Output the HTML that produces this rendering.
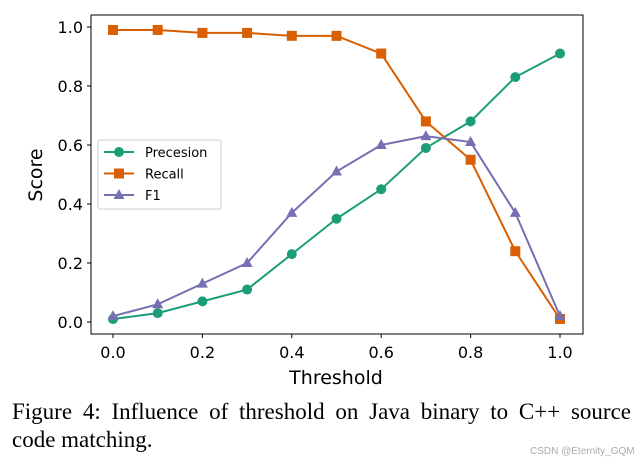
<!DOCTYPE html>
<html><head><meta charset="utf-8"><style>
body{margin:0;background:#fff;width:643px;height:463px;overflow:hidden;position:relative}
svg{position:absolute;left:0;top:0}
.cap{position:absolute;left:12px;width:619px;font-family:"Liberation Serif",serif;font-size:23px;color:#000;text-align:justify;text-align-last:justify;white-space:nowrap}
</style></head><body>
<svg width="643" height="400" id="chart"></svg>
<div class="cap" style="top:399px">Figure 4: Influence of threshold on Java binary to C++ source</div>
<div class="cap" style="top:427px;text-align-last:left">code matching.</div>
<div style="position:absolute;left:530px;top:446px;font-family:'Liberation Sans',sans-serif;font-size:10px;color:#aaa">CSDN @Eternity_GQM</div>
<script>
const thresholds=[0,0.1,0.2,0.3,0.4,0.5,0.6,0.7,0.8,0.9,1.0];
const precision=[0.01,0.03,0.07,0.11,0.23,0.35,0.45,0.59,0.68,0.83,0.91];
const recall=[0.99,0.99,0.98,0.98,0.97,0.97,0.91,0.68,0.55,0.24,0.01];
const f1=[0.02,0.06,0.13,0.20,0.37,0.51,0.60,0.63,0.61,0.37,0.02];
const xTicks=["0.0","0.2","0.4","0.6","0.8","1.0"];
const yTicks=["0.0","0.2","0.4","0.6","0.8","1.0"];
const NS="http://www.w3.org/2000/svg";
const svg=document.getElementById('chart');
const X=v=>113+v*447, Y=v=>322-v*295;
function mk(t,a,p){const e=document.createElementNS(NS,t);for(const k in a)e.setAttribute(k,a[k]);(p||svg).appendChild(e);return e;}
const f="DejaVu Sans, Liberation Sans, sans-serif";
xTicks.forEach(t=>{const x=X(+t);
 const l=mk('line',{x1:x,x2:x,y1:334,y2:338,stroke:'#000'});
 
 const tx=mk('text',{x:x,y:358,'text-anchor':'middle','font-family':f,'font-size':16});tx.textContent=t;
 });
yTicks.forEach(t=>{const y=Y(+t);
 const l=mk('line',{x1:87,x2:91,y1:y,y2:y,stroke:'#000'});
 
 const tx=mk('text',{x:83,y:y+6,'text-anchor':'end','font-family':f,'font-size':16});tx.textContent=t;
 });
const xt=mk('text',{x:336,y:384,'text-anchor':'middle','font-family':f,'font-size':19});xt.textContent='Threshold';

const yt=mk('text',{x:0,y:0,transform:'translate(42,175) rotate(-90)','text-anchor':'middle','font-family':f,'font-size':19});yt.textContent='Score';

function marker(kind,x,y,c,g){
 if(kind==='o')return mk('circle',{cx:x,cy:y,r:5,fill:c},g);
 if(kind==='s')return mk('rect',{x:x-5,y:y-5,width:10,height:10,fill:c},g);
 return mk('polygon',{points:`${x},${y-6} ${x+5.5},${y+4} ${x-5.5},${y+4}`,fill:c},g);}
const series=[[precision,'#1b9e77','o','precision'],[recall,'#d95f02','s','recall'],[f1,'#7570b3','^','f1']];
series.forEach(([d,c,k,n])=>{
 const g=mk('g',{});
 mk('polyline',{points:d.map((v,i)=>X(thresholds[i])+','+Y(v)).join(' '),fill:'none',stroke:c,'stroke-width':2},g);
 d.forEach((v,i)=>{const m=marker(k,X(thresholds[i]),Y(v),c,g);
  });});
const ax=mk('rect',{x:91,y:15,width:492,height:319,fill:'none',stroke:'#000','stroke-width':1});

const lg=mk('g',{});
mk('rect',{x:98,y:140,width:123,height:69,rx:2,fill:'#fff',stroke:'#ccc'},lg);
[['Precesion','#1b9e77','o'],['Recall','#d95f02','s'],['F1','#7570b3','^']].forEach(([t,c,k],i)=>{
 const y=152+i*21.5;
 const e=mk('g',{},lg);
 mk('line',{x1:104,x2:134,y1:y,y2:y,stroke:c,'stroke-width':2},e);
 marker(k,119,y,c,e);
 const tx=mk('text',{x:145,y:y+5,'font-family':f,'font-size':13},e);tx.textContent=t;});
</script>
</body></html>
